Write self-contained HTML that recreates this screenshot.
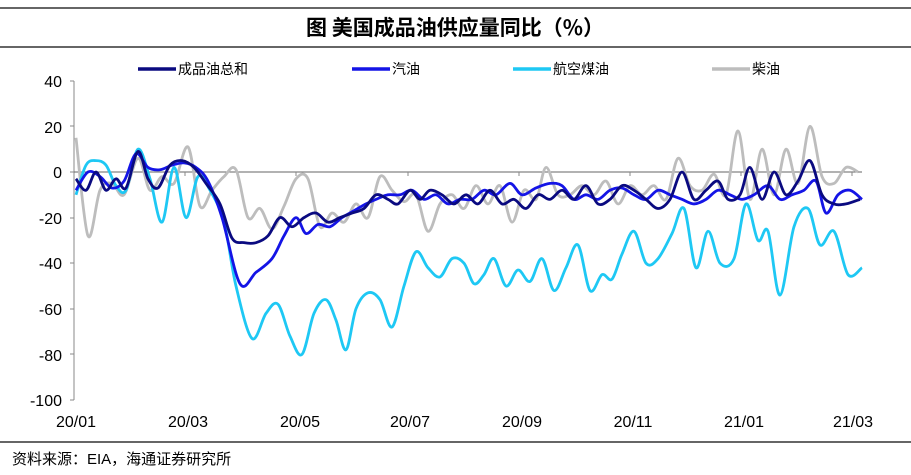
<!DOCTYPE html>
<html><head><meta charset="utf-8"><style>
body{margin:0;background:#fff;}
svg{display:block;font-family:"Liberation Sans","Noto Sans CJK SC",sans-serif;}
</style></head><body>
<svg id="s" width="911" height="475" viewBox="0 0 911 475">
<line x1="0" y1="8" x2="911" y2="8" stroke="#333" stroke-width="1.5"/>
<text x="455" y="35" text-anchor="middle" font-size="21" font-weight="bold" font-family="'Noto Sans CJK SC',sans-serif">图  美国成品油供应量同比（%）</text>
<line x1="0" y1="47" x2="911" y2="47" stroke="#333" stroke-width="1.5"/>
<g font-size="14" font-family="'Noto Sans CJK SC',sans-serif">
<line x1="138" y1="69" x2="176" y2="69" stroke="#0a0a80" stroke-width="3.5"/><text x="178" y="74">成品油总和</text>
<line x1="352" y1="69" x2="390" y2="69" stroke="#1414e6" stroke-width="3.5"/><text x="392" y="74">汽油</text>
<line x1="513" y1="69" x2="551" y2="69" stroke="#1ec8f4" stroke-width="3.5"/><text x="553" y="74">航空煤油</text>
<line x1="712" y1="69" x2="750" y2="69" stroke="#bdbdbd" stroke-width="3.5"/><text x="752" y="74">柴油</text>
</g>
<g font-size="16" fill="#000" text-anchor="end">
<text x="62" y="87">40</text><text x="62" y="133">20</text><text x="62" y="178">0</text>
<text x="62" y="224">-20</text><text x="62" y="269">-40</text><text x="62" y="315">-60</text>
<text x="62" y="361">-80</text><text x="62" y="406">-100</text>
</g>
<g stroke="#888" stroke-width="1">
<line x1="74" y1="81" x2="74" y2="400"/>
<line x1="70" y1="81" x2="74" y2="81"/><line x1="70" y1="126" x2="74" y2="126"/><line x1="70" y1="172" x2="74" y2="172"/><line x1="70" y1="218" x2="74" y2="218"/><line x1="70" y1="263" x2="74" y2="263"/><line x1="70" y1="309" x2="74" y2="309"/><line x1="70" y1="354" x2="74" y2="354"/><line x1="70" y1="400" x2="74" y2="400"/>
<line x1="74" y1="172" x2="862" y2="172" stroke="#666"/>
<line x1="185" y1="172" x2="185" y2="176"/><line x1="296" y1="172" x2="296" y2="176"/><line x1="408" y1="172" x2="408" y2="176"/><line x1="519" y1="172" x2="519" y2="176"/><line x1="630" y1="172" x2="630" y2="176"/><line x1="741" y1="172" x2="741" y2="176"/><line x1="852" y1="172" x2="852" y2="176"/>
</g>
<g font-size="16" text-anchor="middle">
<text x="76" y="427">20/01</text><text x="188" y="427">20/03</text><text x="300" y="427">20/05</text><text x="410" y="427">20/07</text><text x="522" y="427">20/09</text><text x="633" y="427">20/11</text><text x="744" y="427">21/01</text><text x="853" y="427">21/03</text>
</g>
<line x1="0" y1="442" x2="911" y2="442" stroke="#333" stroke-width="1.5"/>
<text x="12" y="464" font-size="15" font-family="'Liberation Sans','Noto Sans CJK SC',sans-serif">资料来源：EIA，海通证券研究所</text>
<g id="lines" fill="none" stroke-width="2.8" stroke-linejoin="round"></g>
</svg>
<script>
const Y=v=>172-v*2.28;
function path(pts){pts=pts.map(p=>[p[0],Y(p[1])]);let d="M"+pts[0];for(let i=0;i<pts.length-1;i++){const p0=pts[i-1]||pts[i],p1=pts[i],p2=pts[i+1],p3=pts[i+2]||p2;const c1=[p1[0]+(p2[0]-p0[0])/6,p1[1]+(p2[1]-p0[1])/6],c2=[p2[0]-(p3[0]-p1[0])/6,p2[1]-(p3[1]-p1[1])/6];d+="C"+c1+" "+c2+" "+p2;}return d;}
const S={
d:[[76,15],[88,-28],[100,-8],[112,-5],[124,-10],[138,6],[150,-8],[162,-2],[174,-5],[188,11],[200,-15],[212,-8],[224,-2],[236,1],[248,-20],[260,-16],[272,-25],[284,-15],[296,-3],[308,-3],[320,-24],[332,-18],[344,-22],[356,-14],[368,-20],[380,-2],[392,-8],[404,-13],[416,-10],[428,-26],[440,-14],[452,-10],[464,-16],[476,-6],[488,-14],[500,-6],[512,-22],[524,-8],[536,-12],[546,2],[558,-10],[570,-10],[582,-6],[594,-10],[606,-4],[618,-14],[630,-6],[642,-10],[654,-6],[666,-12],[678,6],[690,-6],[702,-8],[714,-1],[726,-10],[738,18],[750,-12],[762,10],[774,-10],[786,10],[798,-5],[810,20],[822,-2],[834,-5],[846,2],[858,0]],
j:[[76,-10],[86,3],[96,5],[106,3],[116,-6],[126,-8],[138,10],[150,-3],[162,-22],[174,2],[186,-20],[198,-2],[210,-8],[224,-22],[236,-50],[252,-73],[266,-62],[278,-58],[290,-72],[302,-80],[314,-62],[326,-56],[336,-65],[346,-78],[356,-60],[368,-53],[380,-56],[392,-68],[404,-50],[416,-35],[428,-42],[440,-46],[452,-38],[464,-40],[474,-49],[484,-45],[494,-38],[506,-50],[518,-43],[530,-48],[542,-38],[554,-52],[566,-42],[578,-32],[590,-52],[602,-45],[612,-47],[622,-36],[634,-26],[646,-40],[658,-38],[672,-27],[684,-16],[696,-42],[708,-26],[720,-40],[734,-38],[746,-14],[758,-30],[768,-26],[780,-54],[794,-24],[808,-16],[820,-32],[834,-26],[848,-45],[862,-42]],
g:[[76,-8],[88,0],[100,-2],[112,-7],[124,-4],[136,8],[148,2],[160,1],[172,3],[184,4],[196,2],[208,-4],[222,-20],[240,-49],[256,-44],[272,-38],[284,-28],[296,-20],[306,-27],[318,-23],[330,-24],[342,-20],[354,-17],[366,-14],[376,-12],[388,-10],[400,-10],[412,-8],[424,-12],[436,-10],[448,-14],[460,-12],[472,-12],[484,-8],[496,-10],[510,-5],[522,-10],[536,-7],[550,-5],[562,-6],[574,-12],[586,-10],[598,-12],[610,-8],[622,-7],[634,-10],[646,-12],[658,-8],[670,-10],[682,-12],[694,-14],[706,-12],[718,-8],[730,-10],[742,-12],[754,-10],[768,-6],[780,-12],[792,-10],[804,-8],[816,-4],[826,-18],[838,-10],[850,-8],[862,-12]],
t:[[76,-3],[86,-8],[96,0],[106,-8],[116,-3],[126,-7],[138,9],[148,-3],[158,-7],[170,3],[182,5],[194,2],[206,-5],[220,-14],[232,-29],[244,-31],[256,-31],[268,-28],[280,-20],[292,-24],[304,-20],[316,-18],[328,-22],[340,-20],[352,-18],[364,-16],[376,-10],[388,-12],[398,-14],[410,-8],[420,-12],[430,-8],[442,-10],[454,-14],[466,-10],[478,-14],[490,-8],[502,-14],[514,-12],[526,-16],[538,-10],[550,-12],[562,-8],[574,-12],[586,-6],[598,-14],[610,-12],[622,-6],[634,-8],[646,-12],[658,-16],[670,-12],[682,0],[694,-12],[706,-8],[718,-4],[728,-12],[740,-10],[750,2],[762,-12],[774,0],[786,-10],[798,-4],[810,5],[822,-10],[834,-14],[846,-14],[860,-12]]};
const C={d:"#bdbdbd",j:"#1ec8f4",g:"#1414e6",t:"#0a0a80"};
let h="";for(const k of ["d","j","g","t"])h+=`<path d="${path(S[k])}" stroke="${C[k]}"/>`;
document.getElementById("lines").innerHTML=h;
</script>
</body></html>
